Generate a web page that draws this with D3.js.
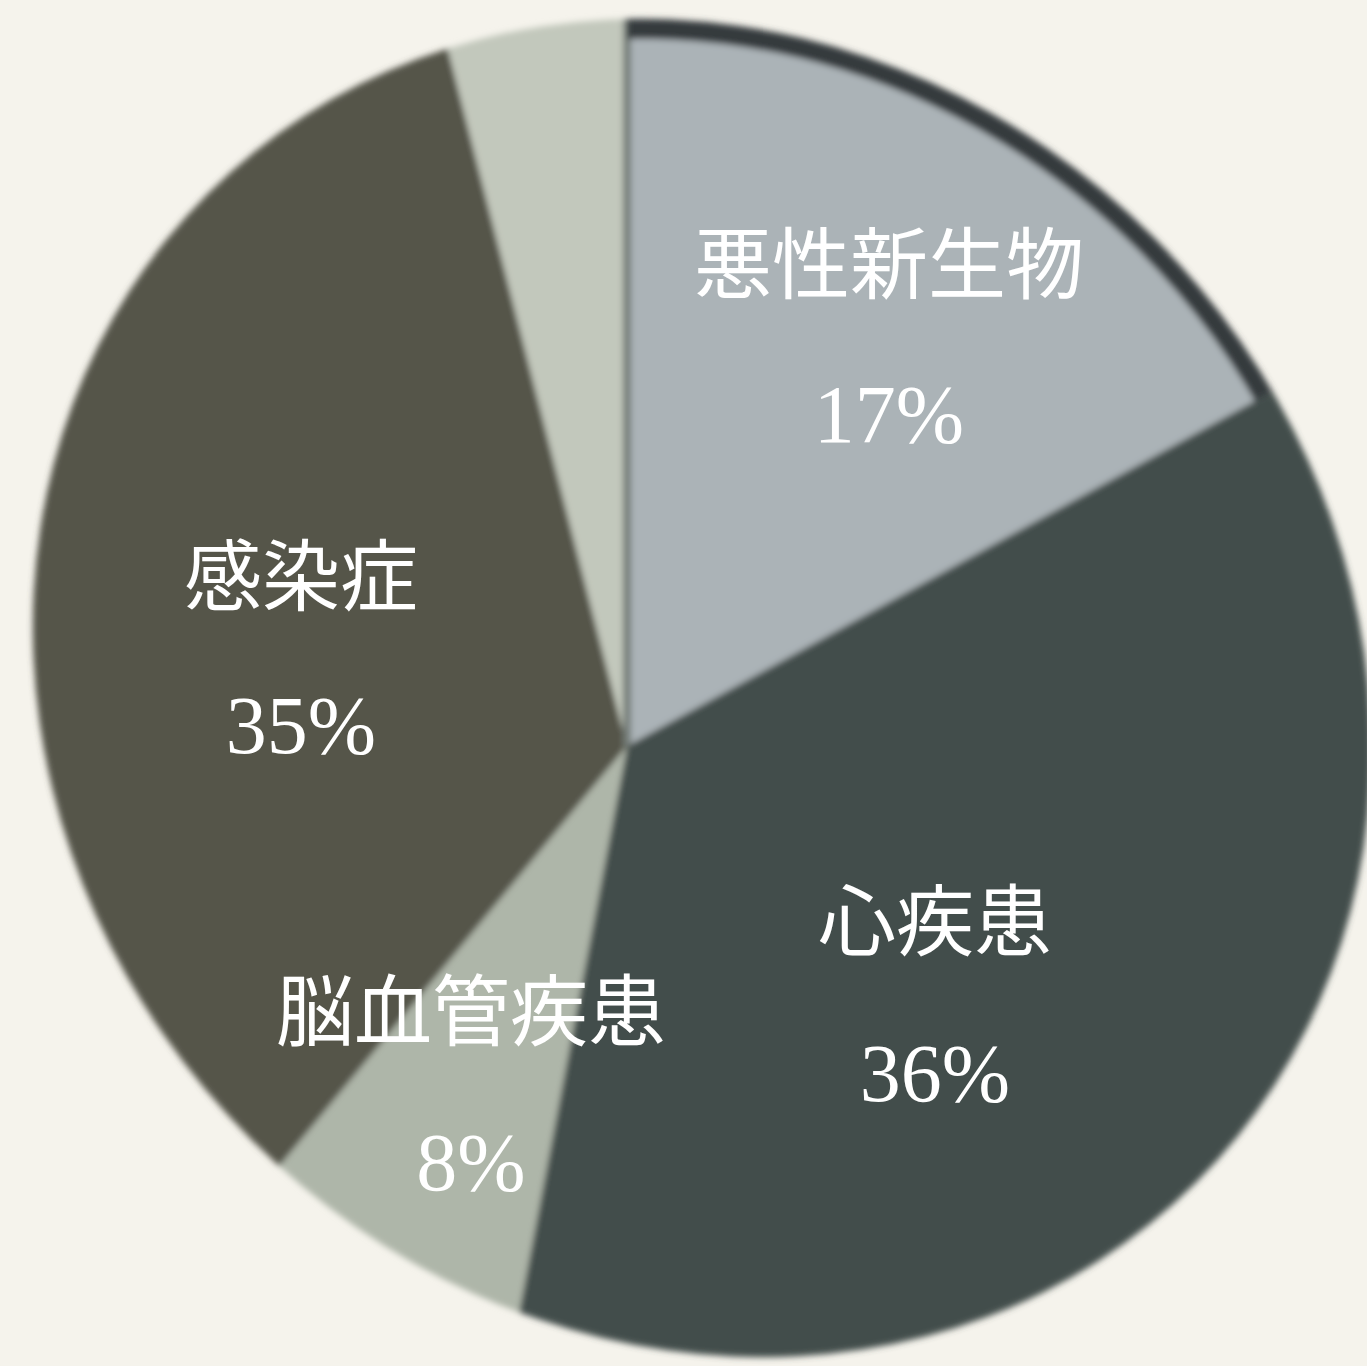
<!DOCTYPE html>
<meta charset="utf-8">
<style>
  body { margin: 0; background: #f5f3ec; }
  .label text { fill: #fff; text-anchor: middle; }
  .label .name { font-family: "Noto Sans CJK JP", sans-serif; font-size: 78px; }
  .label .pct { font-family: "Liberation Serif", "DejaVu Serif", serif; font-size: 82px; }
</style>
<svg width="1367" height="1366"></svg>
<script src="https://d3js.org/d3.v7.min.js"></script>
<script>

    // shares of cause of death, clockwise from 12 o'clock
    var categories = ["悪性新生物", "心疾患", "脳血管疾患", "感染症", "その他"];
    var shares = [17, 36, 8, 35, 4];
    var pctLabels = ["17%", "36%", "8%", "35%", ""];
    var colors = ["#abb3b7", "#434e4c", "#aeb6a9", "#54544a", "#c2c8bc"];

    // where each label block sits: [x, name baseline, percent baseline]
    var labelAt = [[889, 293, 442], [935, 950, 1101], [471, 1040, 1190], [301, 605, 753]];

    var svg = d3.select("svg"),
        width = +svg.attr("width"),
        height = +svg.attr("height");

    svg.append("rect").attr("width", width).attr("height", height).attr("fill", "#f5f3ec");

    // the photographed disc is slightly oval and the apex is off centre
    var apex = [627, 746];
    var disc = { cx: 702, cy: 688, rx: 699, ry: 638, rot: 45 };
    var discTransform = "translate(" + disc.cx + "," + disc.cy + ") rotate(" + disc.rot + ")";

    var pie = d3.pie().sort(null).value(function (d) { return d; });
    var arcs = pie(shares);
    var arc = d3.arc().innerRadius(0).outerRadius(1100);

    var defs = svg.append("defs");

    defs.append("clipPath").attr("id", "disc")
        .append("ellipse")
        .attr("rx", disc.rx).attr("ry", disc.ry)
        .attr("transform", discTransform);

    defs.append("clipPath").attr("id", "rimSlice")
        .append("path")
        .attr("transform", "translate(" + apex[0] + "," + apex[1] + ")")
        .attr("d", arc(arcs[0]));

    var soft = defs.append("filter").attr("id", "soft")
        .attr("x", "-5%").attr("y", "-5%").attr("width", "110%").attr("height", "110%");
    soft.append("feGaussianBlur").attr("stdDeviation", 3);

    var pieG = svg.append("g").attr("filter", "url(#soft)")
        .append("g").attr("clip-path", "url(#disc)");

    var slices = pieG.append("g")
        .attr("transform", "translate(" + apex[0] + "," + apex[1] + ")");

    slices.selectAll("path")
        .data(arcs)
        .enter().append("path")
        .attr("d", arc)
        .attr("fill", function (d, i) { return colors[i]; });

    // dark rim along the outer edge of the first slice
    pieG.append("g").attr("clip-path", "url(#rimSlice)")
        .append("ellipse")
        .attr("rx", disc.rx).attr("ry", disc.ry)
        .attr("transform", discTransform)
        .attr("fill", "none")
        .attr("stroke", "#363b3c")
        .attr("stroke-width", 40);

    // thin dark rule where the first slice starts
    var a0 = arcs[0].startAngle * 180 / Math.PI;
    slices.append("line")
        .attr("x1", 0).attr("y1", 0).attr("x2", 0).attr("y2", -1100)
        .attr("transform", "rotate(" + a0 + ")")
        .attr("stroke", "#737b77")
        .attr("stroke-width", 8);

    var label = svg.append("g").attr("class", "label")
        .selectAll("g")
        .data(labelAt)
        .enter().append("g");

    label.append("text").attr("class", "name")
        .attr("x", function (d) { return d[0]; })
        .attr("y", function (d) { return d[1]; })
        .text(function (d, i) { return categories[i]; });

    label.append("text").attr("class", "pct")
        .attr("x", function (d) { return d[0]; })
        .attr("y", function (d) { return d[2]; })
        .text(function (d, i) { return pctLabels[i]; });

</script>
